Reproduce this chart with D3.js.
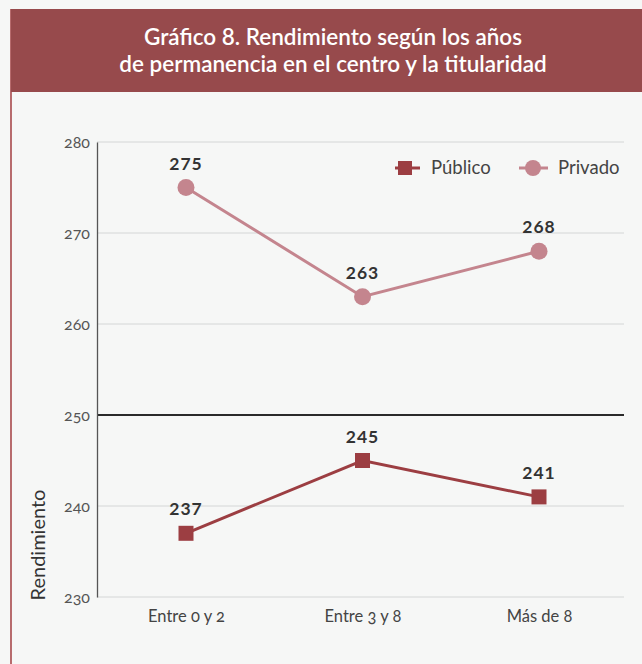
<!DOCTYPE html>
<html>
<head>
<meta charset="utf-8">
<script src="https://cdn.jsdelivr.net/npm/d3@7"></script>
<style>
  html, body { margin: 0; padding: 0; background: #f6f7f6; }
  svg { display: block; }
  .onum { font-variant-numeric: oldstyle-nums; font-feature-settings: "onum" 1; }
</style>
</head>
<body>
<script>
// Rendimiento por años de permanencia en el centro, según titularidad
const categories = ["Entre 0 y 2", "Entre 3 y 8", "Más de 8"];
const publico = [237, 245, 241];
const privado = [275, 263, 268];
const yTicks = [230, 240, 250, 260, 270, 280];
const titleLines = ["Gráfico 8. Rendimiento según los años", "de permanencia en el centro y la titularidad"];

const W = 642, H = 664;
const colPublico = "#9c3e42";
const colPrivado = "#c4858e";
const font = "Lato, 'Open Sans', sans-serif";

const svg = d3.select("body").append("svg").attr("width", W).attr("height", H);

// panel background and left border
svg.append("rect").attr("x", 0).attr("y", 0).attr("width", W).attr("height", H).attr("fill", "#f6f7f6");
svg.append("line").attr("x1", 11).attr("x2", 11).attr("y1", 9).attr("y2", H)
  .attr("stroke", "#a8484c").attr("stroke-width", 1.6);

// title banner
svg.append("rect").attr("x", 11).attr("y", 9).attr("width", W - 11).attr("height", 83).attr("fill", "#974a4c");
svg.append("g").selectAll("text").data(titleLines).join("text")
  .attr("x", 333).attr("y", (d, i) => 45 + i * 27)
  .attr("text-anchor", "middle").attr("fill", "#fff")
  .attr("font-family", font).attr("font-size", 22.5).attr("font-weight", 600)
  .text(d => d);

// scales
const x = d3.scalePoint().domain(categories).range([186, 539]);
const y = d3.scaleLinear().domain([230, 280]).range([597, 142]);
const x0 = 97, x1 = 624;

// grid lines
svg.append("g").selectAll("line").data(yTicks).join("line")
  .attr("x1", x0).attr("x2", x1)
  .attr("y1", d => y(d)).attr("y2", d => y(d))
  .attr("stroke", d => d === 250 ? "#2a2a2a" : "#d4d6d6")
  .attr("stroke-width", d => d === 250 ? 2 : 1);

// y axis
const yAxis = d3.axisLeft(y).tickValues(yTicks).tickSize(0).tickPadding(7);
const gy = svg.append("g").attr("transform", `translate(${x0},0)`).call(yAxis);
gy.select(".domain").attr("stroke", "#555").attr("stroke-width", 1.3);
gy.selectAll("text").attr("class", "onum").attr("font-family", font).attr("font-size", 16).attr("fill", "#555");

// x axis labels
const xAxis = d3.axisBottom(x).tickSize(0).tickPadding(13);
const gx = svg.append("g").attr("transform", `translate(0,${y(230)})`).call(xAxis);
gx.select(".domain").remove();
gx.selectAll("text").attr("class", "onum").attr("font-family", font).attr("font-size", 16.5).attr("fill", "#444");

// y axis title
svg.append("text").attr("transform", "translate(45,545) rotate(-90)")
  .attr("text-anchor", "middle").attr("font-family", font).attr("font-size", 20)
  .attr("fill", "#333").text("Rendimiento");

const line = d3.line().x((d, i) => x(categories[i])).y(d => y(d));

// Privado series
svg.append("path").datum(privado).attr("d", line).attr("fill", "none")
  .attr("stroke", colPrivado).attr("stroke-width", 3);
svg.append("g").selectAll("circle").data(privado).join("circle")
  .attr("cx", (d, i) => x(categories[i])).attr("cy", d => y(d)).attr("r", 8.5)
  .attr("fill", colPrivado);

// Público series
svg.append("path").datum(publico).attr("d", line).attr("fill", "none")
  .attr("stroke", colPublico).attr("stroke-width", 3);
svg.append("g").selectAll("rect").data(publico).join("rect")
  .attr("x", (d, i) => x(categories[i]) - 7.5).attr("y", d => y(d) - 7.5)
  .attr("width", 15).attr("height", 15).attr("fill", colPublico);

// value labels
const labels = privado.map((v, i) => ({ v, i })).concat(publico.map((v, i) => ({ v, i })));
svg.append("g").selectAll("text").data(labels).join("text")
  .attr("x", d => x(categories[d.i])).attr("y", d => y(d.v) - 18)
  .attr("text-anchor", "middle").attr("font-family", font).attr("font-size", 17.5)
  .attr("font-weight", 700).attr("fill", "#333").attr("letter-spacing", 1)
  .text(d => d.v);

// legend
const lg = svg.append("g");
lg.append("line").attr("x1", 395).attr("x2", 420).attr("y1", 168).attr("y2", 168)
  .attr("stroke", colPublico).attr("stroke-width", 3);
lg.append("rect").attr("x", 398).attr("y", 161).attr("width", 14).attr("height", 14).attr("fill", colPublico);
lg.append("text").attr("x", 431).attr("y", 174).attr("font-family", font).attr("font-size", 18.5)
  .attr("fill", "#444").text("Público");
lg.append("line").attr("x1", 519).attr("x2", 548).attr("y1", 168).attr("y2", 168)
  .attr("stroke", colPrivado).attr("stroke-width", 3);
lg.append("circle").attr("cx", 533).attr("cy", 168).attr("r", 8).attr("fill", colPrivado);
lg.append("text").attr("x", 558).attr("y", 174).attr("font-family", font).attr("font-size", 18.5)
  .attr("fill", "#444").text("Privado");
</script>
</body>
</html>
